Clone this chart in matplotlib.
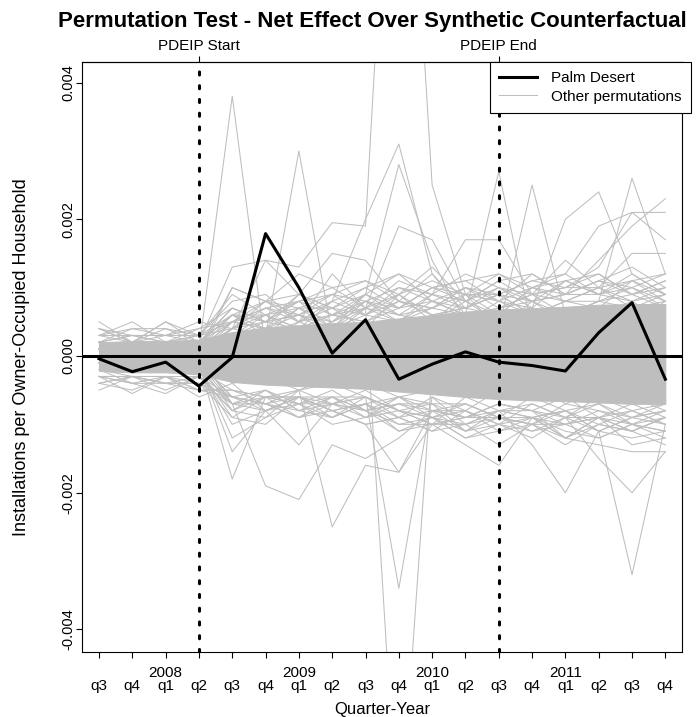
import matplotlib
matplotlib.use("Agg")
import matplotlib.pyplot as plt
from matplotlib.lines import Line2D
import numpy as np

plt.rcParams['font.family'] = ['Liberation Sans', 'DejaVu Sans']

# quarters from 2007 q3 to 2011 q4
quarters = ['q3', 'q4', 'q1', 'q2', 'q3', 'q4', 'q1', 'q2', 'q3', 'q4',
            'q1', 'q2', 'q3', 'q4', 'q1', 'q2', 'q3', 'q4']
years = ['2008', '2009', '2010', '2011']
year_idx = [2, 6, 10, 14]
start_idx = 3   # 2008 q2
end_idx = 12    # 2010 q3

# all values below in units of 1e-4
palm_desert = [-0.4, -2.3, -0.9, -4.4, -0.2, 17.9, 10.0, 0.4, 5.3, -3.4,
               -1.2, 0.6, -0.9, -1.4, -2.2, 3.4, 7.8, -3.4]

# dense core of the permutation cloud (upper / lower edge)
band_hi = [2.0, 2.2, 2.2, 2.4, 3.5, 4.2, 4.5, 4.8, 5.0, 5.5, 6.0, 6.5, 6.8, 7.0, 7.2, 7.5, 7.6, 7.6]
band_lo = [-2.2, -2.4, -2.4, -2.7, -3.8, -4.2, -4.4, -4.6, -4.8, -5.2, -5.6, -6.0, -6.3, -6.5, -6.6, -6.8, -7.0, -7.0]

fringe_up = [
    [5, 2, 5, 2, 7, 5, 4, 6, 5, 8, 6, 7, 9, 6, 8, 10, 8, 9],
    [3, 5, 2, 4, 5, 8, 6, 5, 7, 6, 9, 7, 6, 10, 8, 7, 11, 8],
    [4, 2, 5, 3, 9, 6, 7, 4, 8, 5, 7, 10, 8, 7, 11, 9, 8, 10],
    [2, 4, 3, 3, 6, 4, 9, 7, 6, 9, 5, 8, 11, 8, 6, 8, 10, 7],
    [3, 3, 3, 5, 4, 7, 5, 8, 10, 7, 8, 6, 7, 9, 10, 12, 9, 11],
    [4, 3, 2, 3, 8, 9, 5, 6, 7, 11, 9, 8, 10, 8, 9, 9, 12, 9],
    [3, 4, 4, 2, 6, 6, 8, 6, 9, 7, 10, 9, 9, 8, 9, 11, 9, 10],
    [2, 3, 2, 3, 5, 7, 8, 10, 7, 9, 11, 9, 12, 10, 9, 11, 10, 12],
    [4, 2, 3, 4, 7, 5, 6, 9, 11, 8, 7, 10, 9, 11, 12, 9, 11, 9],
    [3, 2, 4, 3, 4, 8, 7, 7, 9, 12, 10, 11, 8, 10, 11, 12, 9, 11],
    [2, 3, 3, 2, 6, 5, 8, 9, 8, 10, 9, 12, 10, 9, 10, 10, 11, 12],
]
fringe_down = [
    [-4, -3, -5, -3, -6, -5, -7, -5, -8, -6, -7, -9, -7, -8, -10, -8, -9, -8],
    [-3, -5.5, -3, -5, -5, -7, -5, -7, -6, -8, -9, -7, -9, -10, -8, -10, -8, -10],
    [-5, -3, -4, -4, -7, -6, -6, -8, -7, -6, -8, -8, -10, -7, -9, -9, -11, -9],
    [-3, -4, -5.5, -3, -8, -5, -8, -6, -6, -9, -6, -10, -8, -9, -8, -11, -9, -7],
    [-4, -5, -3, -6, -4, -8, -6, -6, -9, -7, -7, -7, -9, -11, -9, -7, -10, -11],
    [-2, -4, -4, -4, -9, -6, -7, -7, -5, -8, -10, -9, -8, -8, -12, -9, -8, -10],
    [-3, -3, -4, -5, -6, -7, -6, -7, -8, -7, -8, -9, -9, -9, -10, -9, -10, -9],
    [-3, -4, -3, -4, -6, -7, -8, -9, -7, -10, -9, -11, -10, -12, -9, -11, -12, -11],
    [-4, -3, -4, -3, -7, -8, -6, -8, -10, -9, -11, -8, -11, -9, -11, -12, -10, -12],
    [-3, -3, -3, -5, -5, -6, -9, -7, -8, -11, -10, -10, -9, -10, -13, -10, -11, -9],
    [-2, -3, -3, -3, -8, -9, -7, -10, -9, -8, -9, -12, -11, -10, -10, -9, -13, -12],
]
perm_up = [
    [1, 0, 1, 1, 38, 1, 5, 3, 2, 4, 2, 3, 1, 2, 3, 2, 1, 3],
    [2, 1, 0, 2, 3, 3, 30, 3, 5, 4, 6, 3, 2, 5, 4, 3, 6, 4],
    [1, 2, 0, 1, 4, 14, 13, 19.5, 19, 105, 25, 9, 6, 4, 7, 5, 3, 6],
    [1, 2, 1, 0, 5, 6, 4, 8, 20, 31, 12, 6, 4, 8, 5, 7, 5, 6],
    [2, 1, 2, 1, 4, 3, 7, 5, 9, 28, 14, 5, 8, 6, 4, 6, 8, 5],
    [1, 0, 1, 2, 6, 8, 5, 12, 7, 19, 17, 8, 5, 7, 6, 4, 7, 8],
    [1, 2, 2, 1, 3, 5, 6, 4, 6, 8, 7, 6, 27, 4, 7, 6, 5, 8],
    [0, 1, 0, 2, 5, 4, 7, 9, 6, 5, 9, 17, 17, 9, 6, 8, 7, 5],
    [1, 1, 2, 0, 4, 6, 3, 5, 8, 6, 5, 9, 4, 25, 6, 8, 9, 7],
    [2, 0, 1, 1, 6, 3, 5, 7, 4, 9, 6, 7, 10, 7, 20, 24, 12, 9],
    [0, 2, 1, 1, 5, 7, 6, 3, 7, 5, 8, 6, 7, 9, 8, 8, 26, 12],
    [1, 1, 0, 2, 3, 6, 4, 6, 5, 7, 10, 8, 6, 10, 12, 19, 21, 21],
    [2, 1, 1, 0, 4, 5, 8, 4, 9, 6, 7, 9, 8, 12, 9, 14, 19, 23],
    [0, 1, 2, 1, 5, 4, 6, 8, 6, 10, 8, 7, 9, 11, 10, 13, 21, 17],
    [1, 2, 1, 2, 7, 5, 9, 6, 8, 7, 10, 11, 12, 9, 14, 10, 15, 15],
    [1, 0, 1, 1, 10, 8, 9, 15, 14, 8, 12, 7, 9, 6, 8, 10, 7, 9],
    [2, 1, 0, 2, 13, 14, 9, 7, 10, 12, 8, 10, 7, 8, 11, 9, 10, 8],
    [1, 2, 1, 0, 10, 8, 12, 10, 11, 9, 13, 8, 11, 12, 9, 11, 13, 10],
]
perm_down = [
    [-1, 0, -2, -1, -3, -2, 2, 4, 7, -72, -2, -4, -3, -5, -2, -4, -6, -3],
    [0, -1, -2, 0, -4, -3, -5, -4, -6, -34, -6, -8, -5, -4, -7, -5, -6, -8],
    [-1, -2, 0, -1, -18, -6, -5, -3, -4, -6, -5, -4, -6, -5, -4, -7, -5, -6],
    [0, -1, -1, -2, -7, -19, -21, -13, -15, -12, -8, -7, -9, -6, -8, -7, -9, -8],
    [-1, 0, -2, -1, -14, -8, -13, -7, -6, -8, -10, -6, -8, -7, -9, -6, -8, -7],
    [0, -1, -1, -1, -12, -9, -5, -25, -16, -17, -10, -9, -7, -8, -6, -9, -7, -9],
    [-1, -1, 0, -2, -9, -10, -6, -8, -10, -17, -8, -11, -9, -10, -7, -8, -10, -8],
    [0, -2, -1, -1, -6, -7, -9, -6, -8, -10, -10, -13, -16, -9, -12, -10, -11, -9],
    [-1, 0, -1, -2, -5, -6, -7, -9, -6, -8, -7, -11, -8, -13, -20, -11, -9, -10],
    [0, -1, -2, 0, -7, -5, -8, -7, -9, -6, -9, -8, -10, -9, -12, -13, -14, -14],
    [-1, -2, -1, -1, -8, -6, -6, -8, -7, -9, -8, -9, -7, -8, -9, -15, -20, -14],
    [0, -1, 0, -1, -6, -8, -7, -6, -8, -7, -9, -10, -8, -9, -8, -11, -32, -10],
    [-1, 0, -1, -1, -7, -7, -9, -8, -10, -9, -11, -10, -13, -10, -12, -9, -11, -13],
    [0, -1, -1, -2, -10, -8, -6, -9, -7, -11, -9, -12, -10, -11, -10, -12, -10, -11],
]

scale = 1e-4
grey = '#BEBEBE'
x = np.arange(len(quarters))

W, H = 696, 717
fig = plt.figure(figsize=(W / 100, H / 100), dpi=100)
ax = fig.add_axes([82 / W, 1 - 652 / H, 600 / W, 590 / H])

ax.fill_between(x, np.array(band_lo) * scale, np.array(band_hi) * scale,
                color=grey, lw=0.7)
for path in fringe_up + fringe_down + perm_up + perm_down:
    ax.plot(x, np.array(path) * scale, color=grey, lw=0.75)

ax.axhline(0, color='black', lw=2.2, zorder=5)
for idx in (start_idx, end_idx):
    ax.axvline(idx, color='black', lw=2.2, linestyle=(0, (1, 3.5)),
               dash_capstyle='round', zorder=5)
ax.plot(x, np.array(palm_desert) * scale, color='black', lw=2.2, zorder=6)

ax.set_xlim(-0.51, 17.5)
ax.set_ylim(-0.00433, 0.0043)

for s in ax.spines.values():
    s.set_linewidth(0.8)

ax.set_yticks([-0.004, -0.002, 0.0, 0.002, 0.004])
ax.set_yticklabels(['-0.004', '-0.002', '0.000', '0.002', '0.004'],
                   rotation=90, va='center', fontsize=10.5)
ax.tick_params(axis='y', direction='out', length=4.5, width=0.8, pad=0)

ax.set_xticks(x)
ax.set_xticklabels([''] * len(x))
ax.tick_params(axis='x', direction='out', length=4.5, width=0.8)
for i, q in enumerate(quarters):
    ax.text(i, -34 / 590, q, transform=ax.get_xaxis_transform(),
            ha='center', va='center', fontsize=11)
for i, yr in zip(year_idx, years):
    ax.text(i, -21 / 590, yr, transform=ax.get_xaxis_transform(),
            ha='center', va='center', fontsize=11)

top = ax.secondary_xaxis('top')
top.set_xticks([start_idx, end_idx])
top.set_xticklabels(['PDEIP Start', 'PDEIP End'], fontsize=11)
top.tick_params(direction='out', length=4.5, width=0.8, pad=2)

ax.set_xlabel('Quarter-Year', fontsize=12, labelpad=28)
ax.set_ylabel('Installations per Owner-Occupied Household', fontsize=13, labelpad=23)

fig.text(372 / W, 1 - 22 / H, 'Permutation Test - Net Effect Over Synthetic Counterfactual',
         ha='center', va='center', fontsize=16, fontweight='bold')

handles = [Line2D([], [], color='black', lw=2.2),
           Line2D([], [], color=grey, lw=0.75)]
leg = ax.legend(handles, ['Palm Desert', 'Other permutations'],
                loc='upper left', bbox_to_anchor=(490 / W, 1 - 62 / H),
                bbox_transform=fig.transFigure, fontsize=11, frameon=True,
                fancybox=False, framealpha=1, edgecolor='black',
                borderpad=0.6, labelspacing=0.3, handlelength=2.5,
                handletextpad=0.9, borderaxespad=0)
leg.get_frame().set_linewidth(0.8)

fig.savefig('out.png', dpi=100)
